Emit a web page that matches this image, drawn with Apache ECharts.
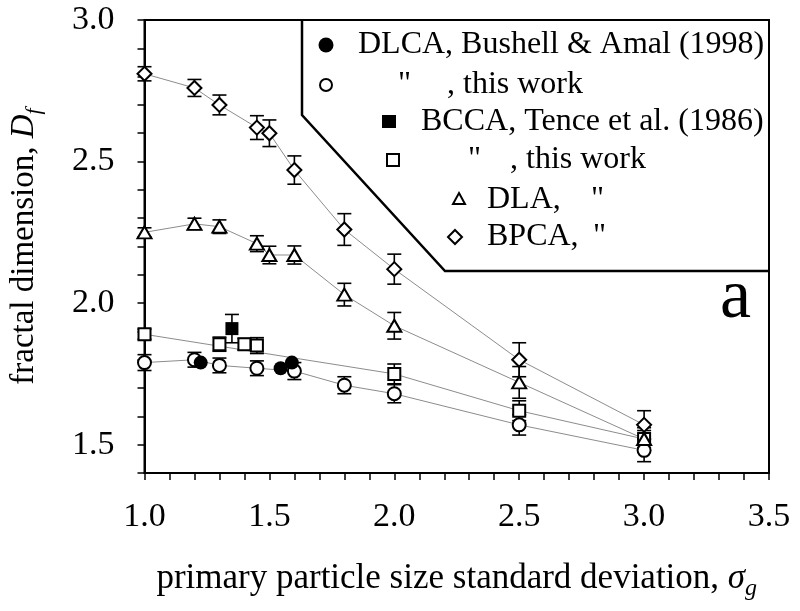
<!DOCTYPE html>
<html><head><meta charset="utf-8">
<script src="https://cdn.jsdelivr.net/npm/echarts@6/dist/echarts.min.js"></script>
<style>html,body{margin:0;padding:0;background:#fff}#c{width:800px;height:611px}</style>
</head><body><div id="c"></div>
<script>
// ---- data ----
const bpcaX = [1.0, 1.2, 1.3, 1.45, 1.5, 1.6, 1.8, 2.0, 2.5, 3.0];
const bpcaY = [2.81, 2.76, 2.70, 2.62, 2.60, 2.47, 2.26, 2.12, 1.80, 1.57];
const bpcaErr = [0.025, 0.03, 0.035, 0.042, 0.047, 0.05, 0.056, 0.053, 0.06, 0.05];

const dlaX = [1.0, 1.2, 1.3, 1.45, 1.5, 1.6, 1.8, 2.0, 2.5, 3.0];
const dlaY = [2.25, 2.28, 2.27, 2.21, 2.17, 2.17, 2.03, 1.92, 1.72, 1.52];
const dlaErr = [0.016, 0.02, 0.024, 0.028, 0.031, 0.032, 0.04, 0.047, 0.056, 0.04];

const bccaX = [1.0, 1.3, 1.4, 1.45, 2.0, 2.5, 3.0];
const bccaY = [1.89, 1.855, 1.855, 1.85, 1.75, 1.62, 1.52];
const bccaErr = [0.018, 0.025, 0.02, 0.028, 0.035, 0.035, 0.03];
const bccaLineIdx = [0, 4, 5, 6];

const dlcaX = [1.0, 1.2, 1.3, 1.45, 1.6, 1.8, 2.0, 2.5, 3.0];
const dlcaY = [1.79, 1.80, 1.78, 1.77, 1.76, 1.71, 1.68, 1.57, 1.48];
const dlcaErr = [0.028, 0.026, 0.026, 0.026, 0.03, 0.03, 0.032, 0.036, 0.04];

const bushellX = [1.225, 1.545, 1.59];
const bushellY = [1.79, 1.77, 1.79];

const tenceX = [1.35];
const tenceY = [1.91];
const tenceErr = [0.05];

const legendLabels = ['DLCA, Bushell & Amal (1998)', '"', ', this work', 'BCCA, Tence et al. (1986)', '"', ', this work', 'DLA,', '"', 'BPCA,', '"'];
const panelLabel = 'a';
const xTitle = 'primary particle size standard deviation, ';
const yTitle = 'fractal dimension, ';

// ---- chart ----
const FONT = 'Liberation Serif';
const pts = (xs, ys) => xs.map((x, i) => [x, ys[i]]);
function errSeries(xs, ys, es) {
  return {
    type: 'custom', silent: true, z: 3,
    data: xs.map((x, i) => [x, ys[i], es[i]]),
    encode: {x: 0, y: 1},
    renderItem: (params, api) => {
      const x = api.value(0), y = api.value(1), e = api.value(2);
      const t = api.coord([x, y + e]), b = api.coord([x, y - e]);
      const hw = 7, st = {stroke: '#000', lineWidth: 1.6};
      return {type: 'group', children: [
        {type: 'line', shape: {x1: t[0], y1: t[1], x2: b[0], y2: b[1]}, style: st},
        {type: 'line', shape: {x1: t[0] - hw, y1: t[1], x2: t[0] + hw, y2: t[1]}, style: st},
        {type: 'line', shape: {x1: b[0] - hw, y1: b[1], x2: b[0] + hw, y2: b[1]}, style: st}
      ]};
    }
  };
}
function lineSeries(data) {
  return {type: 'line', data, symbol: 'none', z: 2, silent: true,
    lineStyle: {color: '#8c8c8c', width: 1}};
}
function scat(data, symbol, size, filled) {
  return {type: 'scatter', data, symbol, symbolSize: size, z: 5, silent: true,
    itemStyle: {color: filled ? '#000' : '#fff', borderColor: '#000', borderWidth: filled ? 0 : 2, opacity: 1}};
}
const isHalf = v => Math.abs(v * 2 - Math.round(v * 2)) < 1e-6;

// legend rows drawn as title components
const titles = [];
function lgText(text, x, y) {
  titles.push({text, left: x, top: y - 19, padding: 0, itemGap: 0,
    textStyle: {fontFamily: FONT, fontSize: 32, fontWeight: 'normal', color: '#000', lineHeight: 38}});
}
const lgSyms = [];
function lgSym(shape, x, y, filled) {
  lgSyms.push(Object.assign({z: 10, silent: true}, shape, {x, y, style: {fill: filled ? '#000' : '#fff', stroke: '#000', lineWidth: filled ? 0.01 : 2}}));
}
lgSym({type: 'circle', shape: {cx: 0, cy: 0, r: 7.5}}, 326, 45, true);
lgText(legendLabels[0], 358, 45);
lgSym({type: 'circle', shape: {cx: 0, cy: 0, r: 6}}, 326, 85, false);
lgText(legendLabels[1], 398, 85); lgText(legendLabels[2], 447, 85);
lgSym({type: 'rect', shape: {x: -7, y: -7, width: 14, height: 13}}, 389, 122, true);
lgText(legendLabels[3], 421, 122);
lgSym({type: 'rect', shape: {x: -6, y: -6, width: 12, height: 12}}, 393, 160, false);
lgText(legendLabels[4], 468, 160); lgText(legendLabels[5], 510, 160);
lgSym({type: 'polygon', shape: {points: [[0, -6], [6, 5], [-6, 5]]}}, 459, 199, false);
lgText(legendLabels[6], 487, 200); lgText(legendLabels[7], 591, 200);
lgSym({type: 'polygon', shape: {points: [[0, -7], [7, 0], [0, 7], [-7, 0]]}}, 455, 237, false);
lgText(legendLabels[8], 487, 237); lgText(legendLabels[9], 593, 237);
titles.push({text: panelLabel, left: 720, top: 259, padding: 0,
  textStyle: {fontFamily: FONT, fontSize: 70, fontWeight: 'normal', color: '#000', lineHeight: 80}});

const chart = echarts.init(document.getElementById('c'), null, {renderer: 'canvas'});
chart.setOption({
  animation: false,
  backgroundColor: '#fff',
  title: titles,
  grid: {left: 140, right: 31, top: 20, bottom: 138, show: true, borderColor: '#000', borderWidth: 2, backgroundColor: 'transparent'},
  xAxis: {
    type: 'value', min: 1.0, max: 3.5, interval: 0.5,
    name: '{n|' + xTitle + '}{i|σ}{s|g}', nameLocation: 'middle', nameGap: 84,
    nameTextStyle: {color: '#000', fontFamily: FONT, fontSize: 35,
      rich: {n: {fontFamily: FONT, fontSize: 35, color: '#000'},
             i: {fontFamily: FONT, fontSize: 35, fontStyle: 'italic', color: '#000'},
             s: {fontFamily: FONT, fontSize: 24, fontStyle: 'italic', color: '#000', padding: [20, 0, 0, 0]}}},
    axisLine: {onZero: false, lineStyle: {color: '#000', width: 2}},
    axisTick: {show: true, inside: false, length: 7, lineStyle: {color: '#000', width: 1.5}},
    minorTick: {show: true, splitNumber: 5, length: 7, lineStyle: {color: '#000', width: 1.5}},
    axisLabel: {color: '#000', fontFamily: FONT, fontSize: 34, margin: 27, formatter: v => v.toFixed(1)},
    splitLine: {show: false}
  },
  yAxis: {
    type: 'value', min: 1.4, max: 3.0, interval: 0.1,
    name: '{n|' + yTitle + '}{i|D}{s|f}', nameLocation: 'middle', nameGap: 99, nameRotate: 90,
    nameTextStyle: {color: '#000', fontFamily: FONT, fontSize: 33,
      rich: {n: {fontFamily: FONT, fontSize: 33, color: '#000'},
             i: {fontFamily: FONT, fontSize: 33, fontStyle: 'italic', color: '#000'},
             s: {fontFamily: FONT, fontSize: 22, fontStyle: 'italic', color: '#000', padding: [20, 0, 0, 0]}}},
    axisLine: {onZero: false, lineStyle: {color: '#000', width: 2}},
    axisTick: {show: true, inside: false, length: 7, lineStyle: {color: '#000', width: 1.5}},
    axisLabel: {color: '#000', fontFamily: FONT, fontSize: 34, margin: 30,
      formatter: v => isHalf(v) ? v.toFixed(1) : ''},
    splitLine: {show: false}
  },
  graphic: lgSyms.concat([
    {type: 'polyline', z: 9, silent: true, shape: {points: [[302, 20], [302, 115], [445, 271], [769, 271]]}, style: {stroke: '#000', lineWidth: 2.5, fill: null}}
  ]),
  series: [
    lineSeries(pts(bpcaX, bpcaY)),
    lineSeries(pts(dlaX, dlaY)),
    lineSeries(bccaLineIdx.map(i => [bccaX[i], bccaY[i]])),
    lineSeries(pts(dlcaX, dlcaY)),
    errSeries(bpcaX, bpcaY, bpcaErr),
    errSeries(dlaX, dlaY, dlaErr),
    errSeries(bccaX, bccaY, bccaErr),
    errSeries(dlcaX, dlcaY, dlcaErr),
    errSeries(tenceX, tenceY, tenceErr),
    scat(pts(dlcaX, dlcaY), 'circle', 13, false),
    scat(pts(bushellX, bushellY), 'circle', 14, true),
    scat(pts(bccaX, bccaY), 'rect', 12, false),
    scat(pts(tenceX, tenceY), 'rect', 13, true),
    scat(pts(dlaX, dlaY), 'triangle', [14, 12], false),
    scat(pts(bpcaX, bpcaY), 'diamond', [14, 14], false)
  ]
});
</script></body></html>
